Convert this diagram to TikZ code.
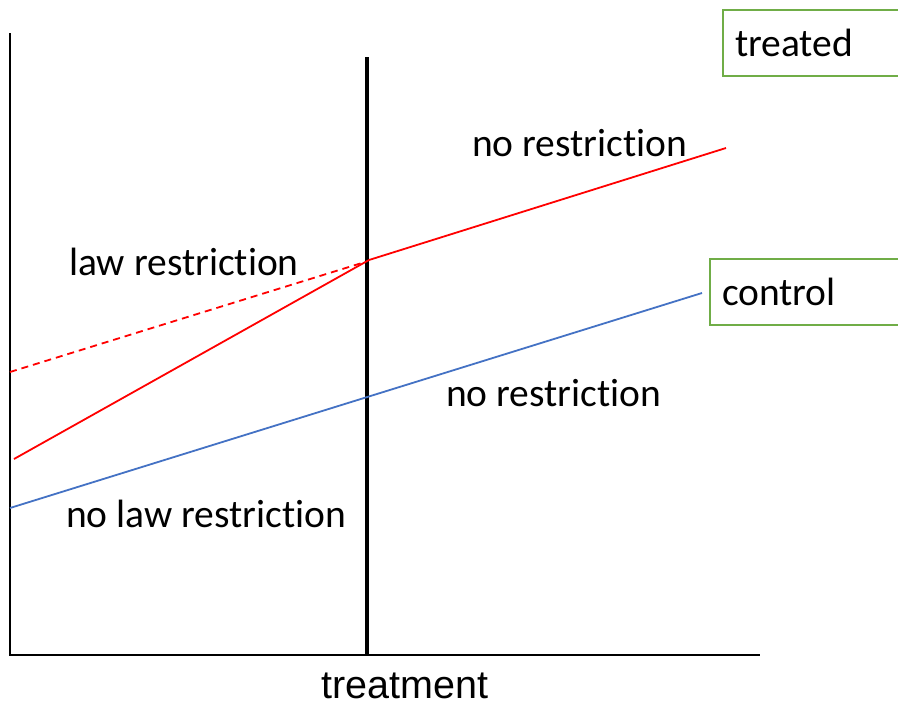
\documentclass[tikz,border=0pt]{standalone}
\usepackage{fontspec}
\setmainfont[Ligatures=NoCommon]{Carlito}
\newfontfamily\axisfont{Liberation Sans}
\definecolor{offblue}{HTML}{4472C4}
\definecolor{offgreen}{HTML}{70AD47}
\definecolor{lred}{HTML}{FF0000}
\begin{document}
\begin{tikzpicture}[x=1pt,y=-1pt,
  lbl/.style={font=\fontsize{39.5}{42}\selectfont, inner sep=0pt, anchor=west},
  legendbox/.style={draw=offgreen, line width=2pt, font=\fontsize{39.5}{42}\selectfont, anchor=west, inner xsep=12pt, inner ysep=0pt, minimum height=66pt, text width=170pt, align=left},
  axisline/.style={line width=2pt, black},
  treatline/.style={line width=3.5pt, black},
  redline/.style={line width=1.8pt, lred},
  blueline/.style={line width=1.8pt, offblue}]
\clip (0,0) rectangle (898,705);
% axes
\coordinate (ytop) at (10,33);
\coordinate (origin) at (10,655);
\coordinate (xend) at (760,655);
\draw[axisline] (ytop) -- (origin) -- (xend);
% treatment line
\coordinate (ttop) at (367,57);
\coordinate (tbot) at (367,655);
\draw[treatline] (ttop) -- (tbot);
% treated lines
\coordinate (r0) at (14,459);
\coordinate (r1) at (369,260);
\coordinate (r2) at (726,148);
\draw[redline] (r0) -- (r1) -- (r2);
\coordinate (d0) at (10,372);
\coordinate (d1) at (365,262);
\draw[redline, dash pattern=on 7pt off 5pt] (d0) -- (d1);
% control line
\coordinate (b0) at (10,508);
\coordinate (b1) at (702,293);
\draw[blueline] (b0) -- (b1);
% labels
\node[lbl] (l1) at (69,262) {law restriction};
\node[lbl] (l2) at (472,143) {no restriction};
\node[lbl] (l3) at (446,393) {no restriction};
\node[lbl] (l4) at (66,514) {no law restriction};
\node[font=\axisfont\fontsize{39.5}{42}\selectfont, inner sep=0pt, anchor=base] (xl) at (405,698) {treatment};
% legend boxes
\node[legendbox] (treated) at (722,42.5) {treated};
\node[legendbox] (control) at (709,292) {control};
\end{tikzpicture}
\end{document}
